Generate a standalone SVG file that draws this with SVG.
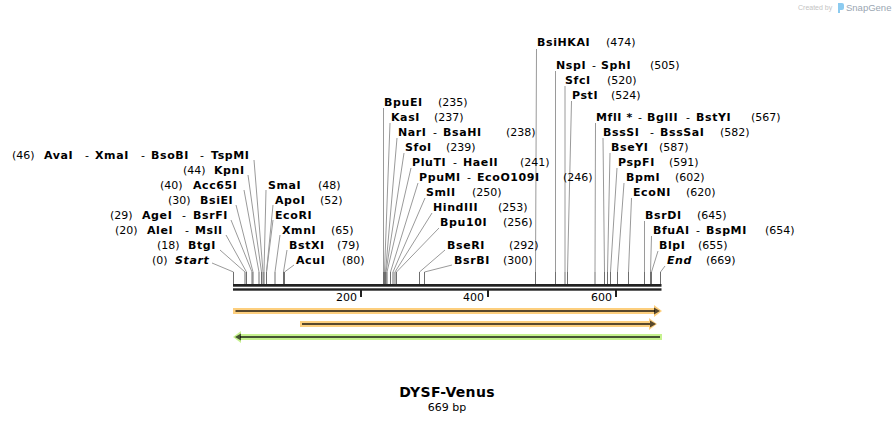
<svg xmlns="http://www.w3.org/2000/svg" width="895" height="423" viewBox="0 0 895 423">
<style>
text{font-family:"DejaVu Sans",Verdana,sans-serif;font-size:11px;fill:#000}
.b{font-weight:bold;letter-spacing:0.6px}
.p{font-weight:normal;letter-spacing:0}
.it{font-weight:bold;font-style:italic;letter-spacing:0.6px}
.c{fill:none;stroke:#9a9a9a;stroke-width:1}
.s{fill:none;stroke:#6e6e6e;stroke-width:1}
.ruler{fill:#222}
.dk{stroke:#000;stroke-opacity:.65;stroke-width:2;fill:none}
.dh{fill:#000;fill-opacity:.65}
.or{fill:#fdcf7e}
.gr{fill:#c6f28f}
</style>
<rect width="895" height="423" fill="#fff"/>
<g id="watermark">
<text x="798" y="10" style="font-family:'Liberation Sans',Arial,sans-serif;font-size:7px;fill:#c4c4c4">Created by</text>
<path d="M838,3 h4 a2,2 0 0 1 2,2 v3 a2,2 0 0 1 -2,2 h-2 v3 h-2 z" fill="#8ccbf0"/>
<text x="846" y="11" style="font-family:'Liberation Sans',Arial,sans-serif;font-size:9.5px;fill:#9aa6b2">SnapGene</text>
</g>
<g id="connectors">
<path class="c" d="M254,160 L263,272 M248,175 L261.5,272 M244,190 L259,272 M236,205 L253,272 M231,220 L252,272 M226,235 L246.5,272 M220,250 L245,272 M212,263 L233.5,272 M266,190 L264,272 M273,205 L266.5,272 M273,220 L266.5,272 M280,235 L275,272 M287,250 L283.5,272 M294,265 L284.5,272"/>
<path class="c" d="M383.5,108 L383.5,272 M390,123 L384.5,272 M397,138 L385.5,272 M404,153 L386,272 M411,168 L387,272 M418,183 L390.5,272 M425,198 L393,272 M432,213 L395,272 M439,228 L396.5,272 M445,250 L419.5,272 M452,265 L424.5,272"/>
<path class="c" d="M536.5,49 L535.5,272 M555.5,71 L555.5,272 M565,86 L565,272 M571.5,101 L567.5,272 M595.5,123 L595,272 M603,138 L604.5,272 M610,153 L607.5,272 M617,168 L610.5,272 M624,183 L617.5,272 M631.5,198 L628.5,272 M644.5,221 L644.5,272 M651.5,236 L650.5,272 M658,251 L651.5,272 M665,266 L660.5,272"/>
<path class="s" d="M233.5,272V284 M245,272V284 M246.5,272V284 M252,272V284 M253,272V284 M259,272V284 M261.5,272V284 M263,272V284 M264,272V284 M266.5,272V284 M275,272V284 M283.5,272V284 M284.5,272V284 M383.5,272V284 M384.5,272V284 M385.5,272V284 M386,272V284 M387,272V284 M390.5,272V284 M393,272V284 M395,272V284 M396.5,272V284 M419.5,272V284 M424.5,272V284 M535.5,272V284 M555.5,272V284 M565,272V284 M567.5,272V284 M595,272V284 M604.5,272V284 M607.5,272V284 M610.5,272V284 M617.5,272V284 M628.5,272V284 M644.5,272V284 M650.5,272V284 M651.5,272V284 M660.5,272V284"/>
</g>
<g id="ruler">
<rect class="ruler" x="233" y="284" width="428.5" height="2.7"/>
<rect class="ruler" x="233" y="288.3" width="428.5" height="2.4"/>
<rect class="ruler" x="360" y="290" width="2" height="7"/>
<rect class="ruler" x="487" y="290" width="2" height="7"/>
<rect class="ruler" x="615" y="290" width="2" height="7"/>
<text x="357" y="301" text-anchor="end">200</text>
<text x="484" y="301" text-anchor="end">400</text>
<text x="612" y="301" text-anchor="end">600</text>
</g>
<g id="feature1">
<polygon class="or" points="233,308 654,308 654,305 662,311 654,317 654,314 233,314"/>
<line class="dk" x1="235.5" y1="311" x2="655" y2="311"/>
<polygon class="dh" points="654,307.5 660,311 654,314.5"/>
</g>
<g id="feature2">
<polygon class="or" points="300,321 649,321 649,318 657,324 649,330 649,327 300,327"/>
<line class="dk" x1="302" y1="324" x2="650" y2="324"/>
<polygon class="dh" points="650,320.5 656,324 650,327.5"/>
</g>
<g id="feature3">
<polygon class="gr" points="241,334 662,334 662,340 241,340 241,343 233,337 241,331"/>
<line class="dk" x1="240" y1="337" x2="660" y2="337"/>
<polygon class="dh" points="241,333.5 235,337 241,340.5"/>
</g>
<g id="AvaI"><text y="159"><tspan x="12" class="p">(46)</tspan><tspan x="44" class="b">AvaI</tspan><tspan x="85" class="p">-</tspan><tspan x="95" class="b">XmaI</tspan><tspan x="141" class="p">-</tspan><tspan x="151" class="b">BsoBI</tspan><tspan x="200" class="p">-</tspan><tspan x="211" class="b">TspMI</tspan></text></g>
<g id="KpnI"><text y="174"><tspan x="183" class="p">(44)</tspan><tspan x="214" class="b">KpnI</tspan></text></g>
<g id="Acc65I"><text y="189"><tspan x="160" class="p">(40)</tspan><tspan x="193" class="b">Acc65I</tspan></text></g>
<g id="BsiEI"><text y="204"><tspan x="168" class="p">(30)</tspan><tspan x="200" class="b">BsiEI</tspan></text></g>
<g id="AgeI"><text y="219"><tspan x="110" class="p">(29)</tspan><tspan x="142" class="b">AgeI</tspan><tspan x="182" class="p">-</tspan><tspan x="193" class="b">BsrFI</tspan></text></g>
<g id="AleI"><text y="234"><tspan x="115" class="p">(20)</tspan><tspan x="147" class="b">AleI</tspan><tspan x="185" class="p">-</tspan><tspan x="195" class="b">MslI</tspan></text></g>
<g id="BtgI"><text y="249"><tspan x="157" class="p">(18)</tspan><tspan x="188" class="b">BtgI</tspan></text></g>
<g id="Start"><text y="264"><tspan x="152" class="p">(0)</tspan><tspan x="175" class="it">Start</tspan></text></g>
<g id="SmaI"><text y="189"><tspan x="268" class="b">SmaI</tspan><tspan x="318" class="p">(48)</tspan></text></g>
<g id="ApoI"><text y="204"><tspan x="275" class="b">ApoI</tspan><tspan x="320" class="p">(52)</tspan></text></g>
<g id="EcoRI"><text y="219"><tspan x="275" class="b">EcoRI</tspan></text></g>
<g id="XmnI"><text y="234"><tspan x="282" class="b">XmnI</tspan><tspan x="331" class="p">(65)</tspan></text></g>
<g id="BstXI"><text y="249"><tspan x="289" class="b">BstXI</tspan><tspan x="337" class="p">(79)</tspan></text></g>
<g id="AcuI"><text y="264"><tspan x="296" class="b">AcuI</tspan><tspan x="342" class="p">(80)</tspan></text></g>
<g id="BpuEI"><text y="106"><tspan x="384" class="b">BpuEI</tspan><tspan x="438" class="p">(235)</tspan></text></g>
<g id="KasI"><text y="121"><tspan x="391" class="b">KasI</tspan><tspan x="434" class="p">(237)</tspan></text></g>
<g id="NarI"><text y="136"><tspan x="398" class="b">NarI</tspan><tspan x="433" class="p">-</tspan><tspan x="443" class="b">BsaHI</tspan><tspan x="506" class="p">(238)</tspan></text></g>
<g id="SfoI"><text y="151"><tspan x="405" class="b">SfoI</tspan><tspan x="446" class="p">(239)</tspan></text></g>
<g id="PluTI"><text y="166"><tspan x="412" class="b">PluTI</tspan><tspan x="453" class="p">-</tspan><tspan x="463" class="b">HaeII</tspan><tspan x="520" class="p">(241)</tspan></text></g>
<g id="PpuMI"><text y="181"><tspan x="419" class="b">PpuMI</tspan><tspan x="467" class="p">-</tspan><tspan x="477" class="b">EcoO109I</tspan><tspan x="563" class="p">(246)</tspan></text></g>
<g id="SmlI"><text y="196"><tspan x="426" class="b">SmlI</tspan><tspan x="472" class="p">(250)</tspan></text></g>
<g id="HindIII"><text y="211"><tspan x="433" class="b">HindIII</tspan><tspan x="498" class="p">(253)</tspan></text></g>
<g id="Bpu10I"><text y="226"><tspan x="440" class="b">Bpu10I</tspan><tspan x="503" class="p">(256)</tspan></text></g>
<g id="BseRI"><text y="249"><tspan x="447" class="b">BseRI</tspan><tspan x="509" class="p">(292)</tspan></text></g>
<g id="BsrBI"><text y="264"><tspan x="454" class="b">BsrBI</tspan><tspan x="503" class="p">(300)</tspan></text></g>
<g id="BsiHKAI"><text y="46"><tspan x="537" class="b">BsiHKAI</tspan><tspan x="606" class="p">(474)</tspan></text></g>
<g id="NspI"><text y="69"><tspan x="556" class="b">NspI</tspan><tspan x="592" class="p">-</tspan><tspan x="601" class="b">SphI</tspan><tspan x="650" class="p">(505)</tspan></text></g>
<g id="SfcI"><text y="84"><tspan x="565" class="b">SfcI</tspan><tspan x="607" class="p">(520)</tspan></text></g>
<g id="PstI"><text y="99"><tspan x="572" class="b">PstI</tspan><tspan x="611" class="p">(524)</tspan></text></g>
<g id="MflI"><text y="121"><tspan x="596" class="b">MflI *</tspan><tspan x="638" class="p">-</tspan><tspan x="647" class="b">BglII</tspan><tspan x="686" class="p">-</tspan><tspan x="696" class="b">BstYI</tspan><tspan x="751" class="p">(567)</tspan></text></g>
<g id="BssSI"><text y="136"><tspan x="603" class="b">BssSI</tspan><tspan x="650" class="p">-</tspan><tspan x="660" class="b">BssSaI</tspan><tspan x="720" class="p">(582)</tspan></text></g>
<g id="BseYI"><text y="151"><tspan x="611" class="b">BseYI</tspan><tspan x="659" class="p">(587)</tspan></text></g>
<g id="PspFI"><text y="166"><tspan x="618" class="b">PspFI</tspan><tspan x="669" class="p">(591)</tspan></text></g>
<g id="BpmI"><text y="181"><tspan x="626" class="b">BpmI</tspan><tspan x="675" class="p">(602)</tspan></text></g>
<g id="EcoNI"><text y="196"><tspan x="633" class="b">EcoNI</tspan><tspan x="686" class="p">(620)</tspan></text></g>
<g id="BsrDI"><text y="219"><tspan x="645" class="b">BsrDI</tspan><tspan x="697" class="p">(645)</tspan></text></g>
<g id="BfuAI"><text y="234"><tspan x="653" class="b">BfuAI</tspan><tspan x="696" class="p">-</tspan><tspan x="706" class="b">BspMI</tspan><tspan x="765" class="p">(654)</tspan></text></g>
<g id="BlpI"><text y="249"><tspan x="659" class="b">BlpI</tspan><tspan x="698" class="p">(655)</tspan></text></g>
<g id="End"><text y="264"><tspan x="667" class="it">End</tspan><tspan x="706" class="p">(669)</tspan></text></g>
<g id="title">
<text x="447" y="397" text-anchor="middle" class="b" style="font-size:14px;letter-spacing:0.3px">DYSF-Venus</text>
<text x="447" y="411" text-anchor="middle">669 bp</text>
</g>
</svg>
